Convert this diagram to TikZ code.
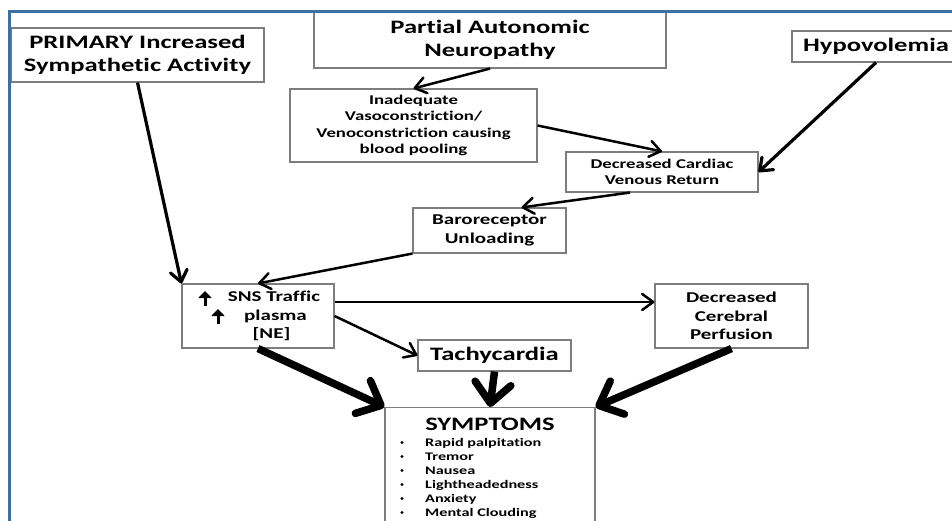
\documentclass[tikz,border=0pt]{standalone}
\usepackage{fontspec}
\setmainfont{Carlito}[FakeStretch=1.4,Ligatures=NoCommon]
\usetikzlibrary{arrows.meta}
\definecolor{frameblue}{RGB}{62,110,165}
\definecolor{boxgray}{RGB}{125,125,125}
\begin{document}
\begin{tikzpicture}[x=1pt,y=-1pt,
  box/.style={draw=boxgray,line width=1.1pt,fill=white,inner sep=0pt,align=center},
  fbig/.style={font=\bfseries\fontsize{19}{23.5}\selectfont},
  fmed/.style={font=\bfseries\fontsize{13.4}{16.5}\selectfont},
  fmid/.style={font=\bfseries\fontsize{15}{18.5}\selectfont},
  fsmall/.style={font=\bfseries\fontsize{11.6}{14}\selectfont},
  thinarr/.style={line width=2.5pt,-{Straight Barb[length=11pt,width=16pt,round]}},
  medarr/.style={line width=3.2pt,-{Straight Barb[length=11pt,width=17pt,round]}},
  thickarr/.style={line width=7.5pt,-{Straight Barb[length=20pt,width=36pt,round]}},
  uparr/.style={line width=3pt,-{Triangle[length=7pt,width=13pt]}},
  dot/.style={circle,fill=black,inner sep=0pt,minimum size=3.4pt}]
\useasboundingbox (0,0) rectangle (952,521);
\clip (0,0) rectangle (952,521);
\fill[white] (0,0) rectangle (952,521);

\node[box,fbig,minimum width=253pt,minimum height=54pt] (prim) at (137.5,55) {PRIMARY Increased\\Sympathetic Activity};
\node[box,fbig,minimum width=352pt,minimum height=56pt] (pan) at (490,40) {Partial Autonomic\\Neuropathy};
\node[box,fbig,minimum width=168pt,minimum height=31pt] (hypo) at (876,46.5) {Hypovolemia};
\node[box,fmed,minimum width=247pt,minimum height=73pt] (inad) at (413.5,125.5) {Inadequate\\Vasoconstriction/\\Venoconstriction causing\\blood pooling};
\node[box,fmed,minimum width=192pt,minimum height=40pt] (dcvr) at (662,172) {Decreased Cardiac\\Venous Return};
\node[box,fmid,minimum width=153pt,minimum height=45pt] (baro) at (489.5,230.5) {Baroreceptor\\Unloading};
\node[box,fmid,minimum width=152pt,minimum height=64pt] (sns) at (258,316) {\hspace{32pt}SNS Traffic\\\hspace{35pt}plasma\\\hspace{27pt}[NE]};
\draw[uparr] (205,306) -- (205,291);
\draw[uparr] (218,324) -- (218,309);
\node[box,fbig,minimum width=153pt,minimum height=31pt] (tachy) at (494.5,355.5) {Tachycardia};
\node[box,fmid,minimum width=153pt,minimum height=64pt] (dcp) at (731.5,316) {Decreased\\Cerebral\\Perfusion};
\node[box,minimum width=210pt,minimum height=133pt,anchor=north] (symp) at (490,407) {};
\node[fbig,anchor=base,inner sep=0pt] (symt) at (490,430) {SYMPTOMS};
\foreach \t [count=\i] in {Rapid palpitation,Tremor,Nausea,Lightheadedness,Anxiety,Mental Clouding}{
  \node[dot] (b\i) at (402,{428.5+14*\i}) {};
  \node[fsmall,anchor=base west,inner sep=0pt] (s\i) at (425,{432+14*\i}) {\t};
}

\draw[medarr] (prim.south) -- (sns.north west);
\draw[thinarr] (pan.south) -- (inad.north);
\draw[thinarr] (inad.east) -- (dcvr.north);
\draw[medarr] (hypo.south) -- (dcvr.east);
\draw[thinarr] ([xshift=-32pt]dcvr.south) -- ([xshift=32pt]baro.north);
\draw[thinarr] (baro.south west) -- (sns.north);
\draw[thinarr] ([yshift=14pt]sns.east) -- ([yshift=14pt]dcp.west);
\draw[thinarr] (sns.east) -- (tachy.west);
\draw[thickarr] (sns.south) -- (symp.north west);
\draw[thickarr] (tachy.south) -- (symp.north);
\draw[thickarr] (dcp.south) -- (symp.north east);

\draw[frameblue,line width=3pt] (9.5,530) -- (9.5,12) -- (960,12);
\end{tikzpicture}
\end{document}
